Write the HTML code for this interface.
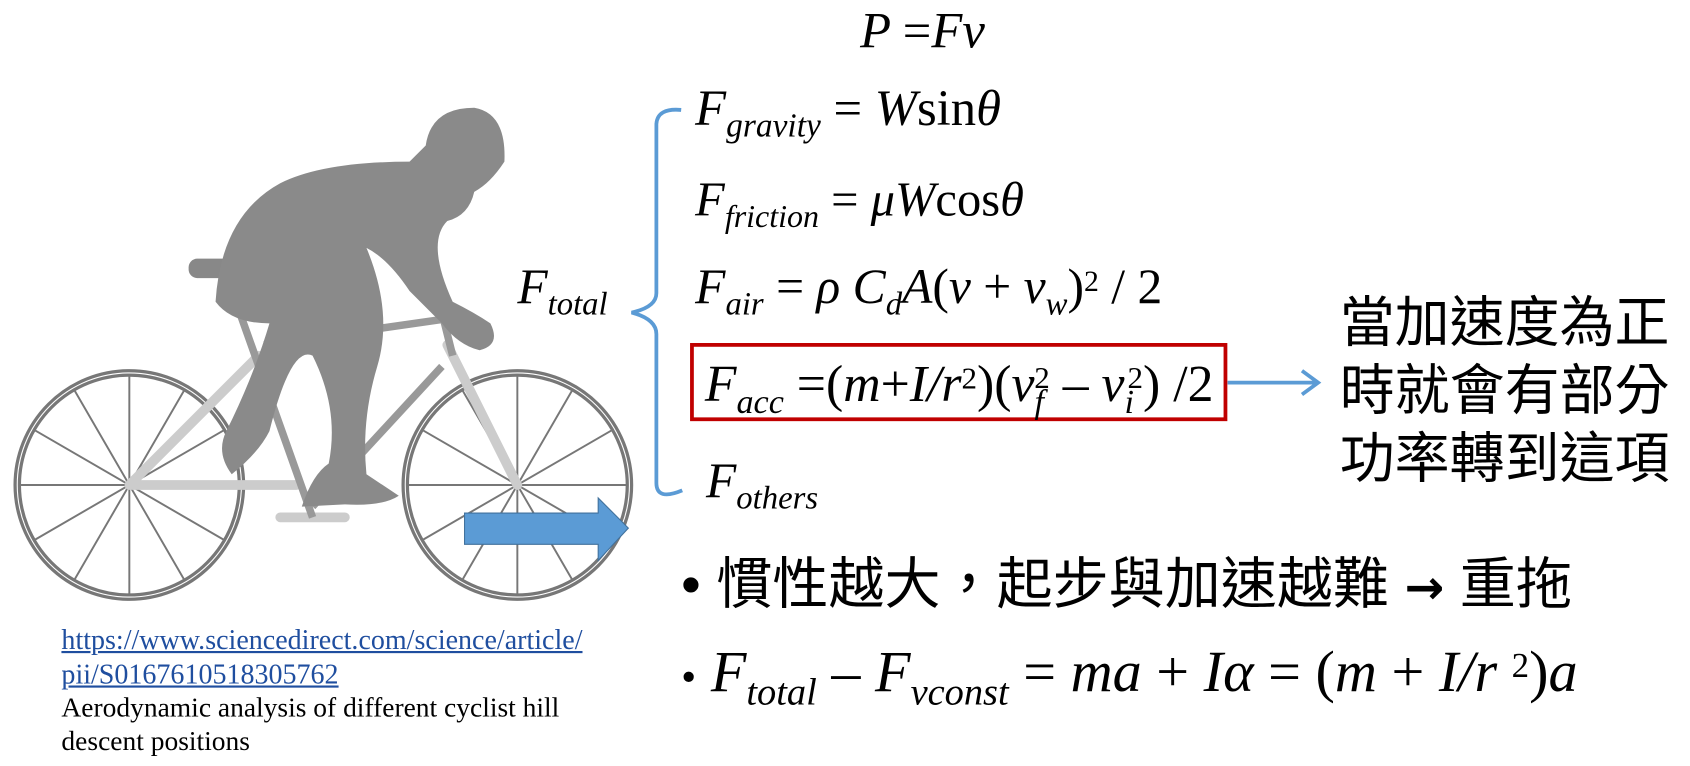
<!DOCTYPE html>
<html><head><meta charset="utf-8"><style>
html,body{margin:0;padding:0;background:#fff;width:1690px;height:766px;overflow:hidden}
#s{position:absolute;left:0;top:0;width:1568px;height:711px;transform:scale(1.0778);transform-origin:0 0;font-family:"Liberation Serif",serif}
.t{position:absolute;white-space:nowrap;font-style:italic;font-size:44px;line-height:1}
.t sub{font-size:0.66em;vertical-align:-0.35em}
.t sup{font-size:0.6em;vertical-align:0.4em}
.n{font-style:normal}
.cj{position:absolute;font-family:"Liberation Sans","Noto Sans CJK TC",sans-serif;white-space:nowrap}
</style></head><body><div id="s">
<svg width="1568" height="711" style="position:absolute;left:0;top:0">
 <g fill="none" stroke="#777" stroke-width="3">
  <circle cx="120" cy="450" r="106"/><circle cx="120" cy="450" r="102"/>
  <circle cx="480" cy="450" r="106"/><circle cx="480" cy="450" r="102"/>
 </g>
 <g stroke="#777" stroke-width="1.8">
  <path d="M18 450H222M120 348V552M32 399L208 501M32 501L208 399M69 362L171 538M69 538L171 362"/>
  <path d="M378 450H582M480 348V552M392 399L568 501M392 501L568 399M429 362L531 538M429 538L531 362"/>
 </g>
 <g stroke="#ccc" stroke-width="9" stroke-linecap="round">
  <path d="M120 450L240 330M120 450H275M480 450L415 320M260 480H320"/>
 </g>
 <g stroke="#999" stroke-width="7">
  <path d="M210 255L290 480M245 320L420 295M290 470L410 340M410 290L420 330"/>
 </g>
 <rect x="175" y="240" width="40" height="18" rx="8" fill="#888"/>
 <path fill="#8a8a8a" d="M200 280Q205 200 260 170Q300 150 380 150L395 135Q400 100 440 100Q470 105 468 150Q455 170 440 178Q435 200 415 205Q395 225 420 280Q440 290 455 300Q465 320 445 325Q425 320 410 300L380 270Q360 240 340 230Q365 290 350 340Q335 390 340 440Q355 450 370 460Q355 470 320 468L280 470Q290 440 305 430Q315 380 290 330Q270 320 250 400Q240 420 215 440Q200 420 210 400Q235 350 250 300Q215 300 200 280Z"/>
 <path d="M431 476H555V462L583 490L555 520V505H431Z" fill="#5b9bd5" stroke="#41719c" stroke-width="1"/>
 <path d="M632 102Q610 100 609 115V272Q609 285 586 290Q609 296 609 310V448Q609 465 633 455" fill="none" stroke="#5b9bd5" stroke-width="3.5"/>
 <rect x="642" y="320" width="495" height="69" fill="none" stroke="#c00000" stroke-width="3.5"/>
 <path d="M1139 355H1222M1208 344L1223 355L1208 366" fill="none" stroke="#5b9bd5" stroke-width="3.5"/>
</svg>
<div class="t" style="left:798px;top:6px;font-size:47px">P <span class="n">=</span>Fv</div>
<div class="t" style="left:645px;top:78px;font-size:47px">F<sub>gravity</sub> <span class="n">= </span>W<span class="n">sin</span>θ</div>
<div class="t" style="left:645px;top:163px;font-size:45px">F<sub>friction</sub> <span class="n">= </span>μW<span class="n">cos</span>θ</div>
<div class="t" style="left:645px;top:243px;font-size:46px">F<sub>air</sub> <span class="n">= </span>ρ C<sub>d</sub>A<span class="n">(</span>v <span class="n">+</span> v<sub>w</sub><span class="n">)</span><sup class="n">2</sup><span class="n"> / 2</span></div>
<div class="t" style="left:654px;top:333px;font-size:48px">F<sub>acc</sub> <span class="n">=(</span>m<span class="n">+</span>I/r<sup class="n">2</sup><span class="n">)(</span>v<sub>f</sub><sup class="n" style="margin-left:-9px">2</sup> <span class="n">–</span> v<sub>i</sub><sup class="n" style="margin-left:-6px">2</sup><span class="n">) /2</span></div>
<div class="t" style="left:655px;top:423px;font-size:46px">F<sub>others</sub></div>
<div class="t" style="left:480px;top:243px;font-size:46px">F<sub>total</sub></div>
<div class="cj" style="left:1243px;top:268px;font-size:51px;line-height:63px">當加速度為正<br>時就會有部分<br>功率轉到這項</div>
<div class="cj" style="left:632px;top:513px;font-size:52px;line-height:60px">•&nbsp;慣性越大，起步與加速越難 <b style="font-family:'DejaVu Sans',sans-serif;font-size:44px">→</b> 重拖</div>
<div class="t" style="left:632px;top:596px;font-size:54px"><span class="n" style="font-size:40px">•</span> F<sub>total</sub> <span class="n">– </span>F<sub>vconst</sub> <span class="n">= </span>ma <span class="n">+ </span>Iα <span class="n">= (</span>m <span class="n">+ </span>I/r <sup class="n">2</sup><span class="n">)</span>a</div>
<div style="position:absolute;left:57px;top:578px;font-size:26px;line-height:32px;color:#1f4e9f"><span style="text-decoration:underline">https://www.sciencedirect.com/science/article/</span><br><span style="text-decoration:underline">pii/S0167610518305762</span></div>
<div style="position:absolute;left:57px;top:641px;font-size:25.5px;line-height:31px;color:#000">Aerodynamic analysis of different cyclist hill<br>descent positions</div>
</div></body></html>
